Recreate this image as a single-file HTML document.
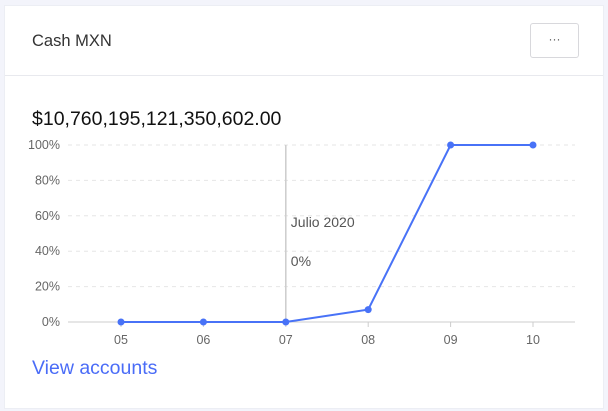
<!DOCTYPE html>
<html><head><meta charset="utf-8"><style>
body{margin:0;width:608px;height:411px;background:#f3f4fb;font-family:"Liberation Sans",sans-serif;overflow:hidden;position:relative}
.card{position:absolute;left:4px;top:5px;width:600px;height:404px;background:#fff;border:1px solid #eceef4;box-sizing:border-box}
.hdr{position:absolute;left:0;top:0;width:598px;height:69px;border-bottom:1px solid #e8e9ee}
.title{position:absolute;left:27px;top:26px;font-size:16.5px;color:#333}
.btn{position:absolute;left:525px;top:17px;width:49px;height:35px;border:1px solid #d8d8dc;border-radius:3px;box-sizing:border-box;text-align:center;line-height:30px;font-size:12px;color:#555}
.amt{position:absolute;left:27px;top:102px;font-size:19.5px;color:#111}
.link{position:absolute;left:27px;top:351px;font-size:19.5px;color:#4a6cf7}
svg{position:absolute;left:0;top:0}
</style></head><body>
<div class="card">
<div class="hdr">
<div class="title">Cash MXN</div>
<div class="btn">···</div>
</div>
<div class="amt">$10,760,195,121,350,602.00</div>
<div class="link">View accounts</div>
</div>
<svg id="chart" width="608" height="411"></svg>
<script>
const categories=["05","06","07","08","09","10"];
const values=[0,0,0,7,100,100];
const yTicks=[0,20,40,60,80,100];
const cursorLabel="Julio 2020", cursorValue="0%", cursorIndex=2;
const NS="http://www.w3.org/2000/svg",svg=document.getElementById('chart');
const x=i=>121+82.4*i, y=v=>322-v*1.77;
function mk(t,a,txt){const e=document.createElementNS(NS,t);for(const k in a)e.setAttribute(k,a[k]);if(txt!=null)e.textContent=txt;svg.appendChild(e);return e;}
yTicks.forEach(t=>{
 const g=mk('line',{x1:68,x2:575,y1:y(t),y2:y(t),stroke:t?'#e6e6e6':'#ccc','stroke-dasharray':t?'4,4':'',"stroke-width":1});
 
 
 const l=mk('text',{x:70-0-0-0-0-10,y:y(t)+4,'text-anchor':'end','font-size':12.5,fill:'#666','font-family':'Liberation Sans'},t+'%');
 
 
});
categories.forEach((c,i)=>{
 const tk=mk('line',{x1:x(i),x2:x(i),y1:322,y2:327,stroke:'#ccc'});
 
 
 const l=mk('text',{x:x(i),y:344,'text-anchor':'middle','font-size':12.5,fill:'#666','font-family':'Liberation Sans'},c);
 
 
});
const cl=mk('line',{x1:x(cursorIndex),x2:x(cursorIndex),y1:145,y2:322,stroke:'#ccc','stroke-width':1.5});


const t1=mk('text',{x:x(cursorIndex)+5,y:227,'font-size':14,fill:'#555','font-family':'Liberation Sans'},cursorLabel);


const t2=mk('text',{x:x(cursorIndex)+5,y:266,'font-size':14,fill:'#555','font-family':'Liberation Sans'},cursorValue);


const p=mk('polyline',{points:values.map((v,i)=>x(i)+','+y(v)).join(' '),fill:'none',stroke:'#4872f7','stroke-width':2});


values.forEach((v,i)=>{
 const c=mk('circle',{cx:x(i),cy:y(v),r:3.5,fill:'#4872f7'});
 
 
});
</script>
</body></html>
